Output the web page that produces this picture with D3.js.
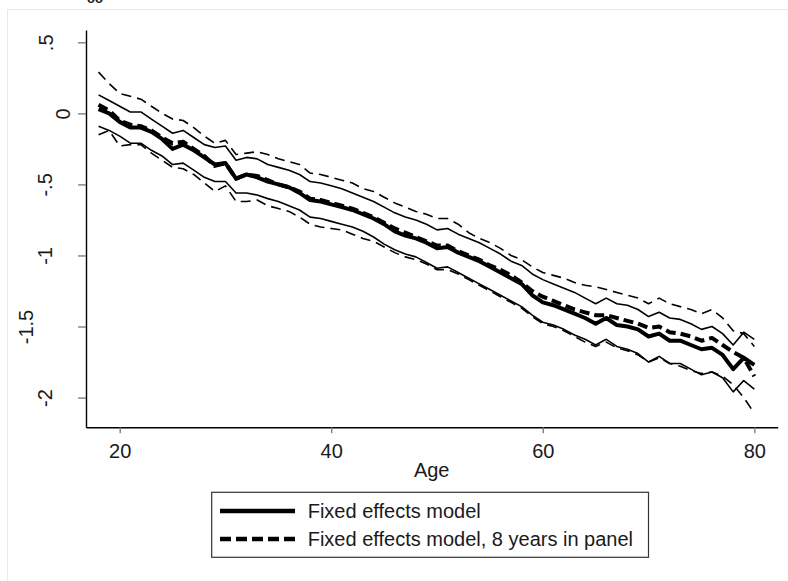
<!DOCTYPE html>
<html>
<head>
<meta charset="utf-8">
<script src="https://cdn.jsdelivr.net/npm/d3@7"></script>
<style>
  body { margin: 0; background: #fff; }
  text { font-family: "Liberation Sans", Arial, Helvetica, sans-serif; fill: #1a1a1a; }
</style>
</head>
<body>
<script>
// data
const ages = [18, 19, 20, 21, 22, 23, 24, 25, 26, 27, 28, 29, 30, 31, 32, 33, 34, 35, 36, 37, 38, 39, 40,
  41, 42, 43, 44, 45, 46, 47, 48, 49, 50, 51, 52, 53, 54, 55, 56, 57, 58, 59, 60,
  61, 62, 63, 64, 65, 66, 67, 68, 69, 70, 71, 72, 73, 74, 75, 76, 77, 78, 79, 80];

const fe = [0.03, 0.00, -0.06, -0.10, -0.10, -0.13, -0.18, -0.25, -0.22, -0.26, -0.31, -0.36, -0.35, -0.46,
  -0.43, -0.45, -0.48, -0.50, -0.52, -0.56, -0.61, -0.62, -0.64, -0.66, -0.68, -0.71, -0.74, -0.78,
  -0.83, -0.86, -0.88, -0.91, -0.95, -0.94, -0.98, -1.01, -1.04, -1.08, -1.12, -1.16, -1.20, -1.28,
  -1.33, -1.35, -1.38, -1.41, -1.44, -1.48, -1.44, -1.49, -1.50, -1.52, -1.57, -1.55, -1.60, -1.60,
  -1.63, -1.66, -1.65, -1.70, -1.80, -1.72, -1.77];
const feHi = [0.13, 0.09, 0.05, 0.01, 0.01, -0.04, -0.09, -0.14, -0.12, -0.17, -0.22, -0.24, -0.23, -0.33,
  -0.31, -0.32, -0.36, -0.38, -0.40, -0.43, -0.48, -0.49, -0.51, -0.53, -0.56, -0.59, -0.62, -0.66,
  -0.70, -0.73, -0.75, -0.78, -0.82, -0.81, -0.85, -0.88, -0.91, -0.95, -0.99, -1.04, -1.07, -1.13,
  -1.17, -1.20, -1.23, -1.26, -1.30, -1.34, -1.30, -1.34, -1.35, -1.38, -1.43, -1.40, -1.44, -1.45,
  -1.48, -1.52, -1.50, -1.55, -1.63, -1.54, -1.59];
const feLo = [-0.09, -0.12, -0.16, -0.21, -0.21, -0.26, -0.30, -0.36, -0.35, -0.40, -0.45, -0.48, -0.48, -0.56,
  -0.56, -0.575, -0.60, -0.62, -0.65, -0.68, -0.73, -0.74, -0.76, -0.78, -0.80, -0.83, -0.87, -0.92,
  -0.96, -0.99, -1.01, -1.05, -1.09, -1.08, -1.12, -1.16, -1.20, -1.24, -1.28, -1.32, -1.36, -1.42,
  -1.47, -1.49, -1.52, -1.56, -1.59, -1.63, -1.59, -1.64, -1.66, -1.69, -1.75, -1.71, -1.76, -1.76,
  -1.80, -1.84, -1.82, -1.86, -1.96, -1.88, -1.94];

const fe8 = [0.06, 0.02, -0.05, -0.08, -0.09, -0.12, -0.17, -0.21, -0.20, -0.25, -0.30, -0.37, -0.35, -0.46,
  -0.43, -0.44, -0.47, -0.50, -0.52, -0.55, -0.60, -0.61, -0.63, -0.65, -0.67, -0.70, -0.73, -0.77,
  -0.81, -0.84, -0.87, -0.90, -0.93, -0.93, -0.97, -1.00, -1.03, -1.07, -1.10, -1.14, -1.19, -1.25,
  -1.29, -1.32, -1.35, -1.38, -1.40, -1.42, -1.42, -1.44, -1.46, -1.48, -1.51, -1.50, -1.54, -1.55,
  -1.57, -1.60, -1.58, -1.63, -1.68, -1.72, -1.85];
const fe8Hi = [0.29, 0.21, 0.14, 0.12, 0.10, 0.05, 0.00, -0.04, -0.05, -0.10, -0.16, -0.21, -0.19, -0.29,
  -0.28, -0.27, -0.29, -0.32, -0.34, -0.36, -0.42, -0.43, -0.45, -0.47, -0.49, -0.53, -0.55, -0.59,
  -0.63, -0.66, -0.69, -0.71, -0.74, -0.74, -0.78, -0.84, -0.88, -0.91, -0.95, -1.00, -1.03, -1.08,
  -1.12, -1.14, -1.16, -1.19, -1.21, -1.22, -1.24, -1.26, -1.28, -1.30, -1.34, -1.30, -1.34, -1.36,
  -1.38, -1.41, -1.38, -1.44, -1.53, -1.55, -1.64];
const fe8Lo = [-0.15, -0.12, -0.23, -0.22, -0.22, -0.28, -0.33, -0.38, -0.39, -0.43, -0.49, -0.55, -0.51, -0.62,
  -0.62, -0.61, -0.65, -0.67, -0.69, -0.73, -0.78, -0.80, -0.81, -0.82, -0.85, -0.88, -0.90, -0.94,
  -0.98, -1.01, -1.03, -1.06, -1.10, -1.10, -1.13, -1.17, -1.21, -1.25, -1.29, -1.33, -1.37, -1.43,
  -1.48, -1.50, -1.53, -1.57, -1.61, -1.64, -1.61, -1.65, -1.67, -1.70, -1.75, -1.72, -1.76, -1.78,
  -1.81, -1.83, -1.82, -1.85, -1.91, -2.00, -2.11];

const xTicks = [20, 40, 60, 80];
const yTicks = [0.5, 0, -0.5, -1, -1.5, -2];
const legendLabels = ["Fixed effects model", "Fixed effects model, 8 years in panel"];

const W = 788, H = 581;
const margin = { top: 30, right: 10.3, bottom: 153.7, left: 86 };
const width = W - margin.left - margin.right;
const height = H - margin.top - margin.bottom;

const svg = d3.select("body").append("svg")
    .attr("width", W)
    .attr("height", H);

svg.append("rect").attr("width", W).attr("height", H).attr("fill", "#fff");

// faint outer graph region border
svg.append("rect")
    .attr("x", 7.5).attr("y", 9.5)
    .attr("width", 820).attr("height", 620)
    .attr("fill", "none")
    .attr("stroke", "#e4eaee")
    .attr("stroke-width", 1);

// clipped text fragment at the very top
svg.append("text")
    .attr("x", 87).attr("y", 3)
    .attr("font-size", 13)
    .attr("font-weight", "bold")
    .text("oo");

const g = svg.append("g")
    .attr("transform", "translate(" + margin.left + "," + margin.top + ")");

const x = d3.scaleLinear().domain([16.814, 82.21]).range([0, width]);
const y = d3.scaleLinear().domain([-2.2092, 0.5866]).range([height, 0]);

// axes
const xAxis = d3.axisBottom(x).tickValues(xTicks).tickSize(6).tickSizeOuter(0);
const yAxis = d3.axisLeft(y).tickValues(yTicks).tickSize(8).tickSizeOuter(0)
    .tickFormat(d => d === 0 ? "0" : String(d).replace("0.", "."));

const gx = g.append("g")
    .attr("transform", "translate(0," + height + ")")
    .call(xAxis);
gx.select(".domain").attr("stroke", "#000").attr("stroke-width", 1.4);
gx.selectAll(".tick line").attr("stroke", "#777").attr("stroke-width", 1.3);
gx.selectAll(".tick text")
    .attr("y", 31).attr("dy", 0)
    .attr("font-size", 20)
    .attr("fill", "#1a1a1a")
    .style("font-family", "'Liberation Sans', Arial, sans-serif");

// rotated y labels; baseline positions as they sit in the picture
const yLabelBase = { "0.5": 53, "0": 70, "-0.5": 52, "-1": 52, "-1.5": 33, "-2": 52 };
const gy = g.append("g").call(yAxis);
gy.select(".domain").attr("stroke", "#000").attr("stroke-width", 1.4);
gy.selectAll(".tick line").attr("stroke", "#777").attr("stroke-width", 1.3);
gy.selectAll(".tick text")
    .attr("x", 0).attr("y", 0).attr("dy", 0)
    .attr("text-anchor", "middle")
    .attr("transform", d => "translate(" + (yLabelBase[String(d)] - margin.left) + ",0) rotate(-90)")
    .attr("font-size", 20)
    .attr("fill", "#1a1a1a")
    .style("font-family", "'Liberation Sans', Arial, sans-serif");

// x title
g.append("text")
    .attr("x", 431.7 - margin.left)
    .attr("y", 476.7 - margin.top)
    .attr("text-anchor", "middle")
    .attr("font-size", 20)
    .text("Age");

// lines
const line = d3.line()
    .x((d, i) => x(ages[i]))
    .y(d => y(d));

const series = [
    { vals: feHi, w: 1.6, dash: null },
    { vals: feLo, w: 1.6, dash: null },
    { vals: fe8Hi, w: 1.6, dash: "10,6" },
    { vals: fe8Lo, w: 1.6, dash: "10,6" },
    { vals: fe, w: 4, dash: null },
    { vals: fe8, w: 4, dash: "10,5" }
];

g.selectAll(".series")
    .data(series)
    .enter()
    .append("path")
    .attr("class", "series")
    .attr("d", d => line(d.vals))
    .attr("fill", "none")
    .attr("stroke", "#000")
    .attr("stroke-width", d => d.w)
    .attr("stroke-dasharray", d => d.dash)
    .attr("stroke-linejoin", "round");

// legend
const lg = svg.append("g");
lg.append("rect")
    .attr("x", 211.7).attr("y", 492.3)
    .attr("width", 436.8).attr("height", 65)
    .attr("fill", "#fff")
    .attr("stroke", "#333")
    .attr("stroke-width", 1.2);

const legendRows = [
    { label: legendLabels[0], dash: null },
    { label: legendLabels[1], dash: "11,5" }
];
legendRows.forEach((r, i) => {
    const cy = 511 + i * 28;
    lg.append("line")
        .attr("x1", 220).attr("x2", 295)
        .attr("y1", cy).attr("y2", cy)
        .attr("stroke", "#000")
        .attr("stroke-width", 4.5)
        .attr("stroke-dasharray", r.dash);
    lg.append("text")
        .attr("x", 307.7)
        .attr("y", cy + 7)
        .attr("font-size", 20)
        .text(r.label);
});
</script>
</body>
</html>
